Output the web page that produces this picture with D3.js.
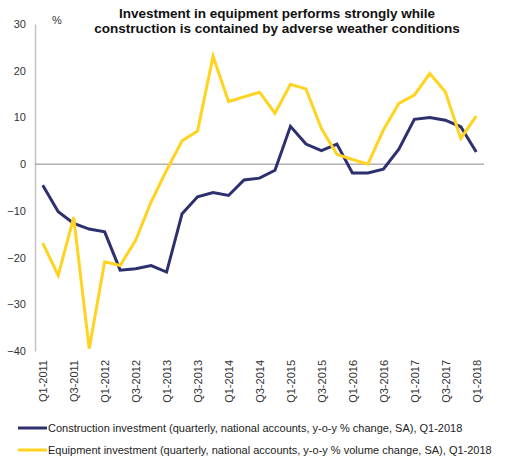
<!DOCTYPE html>
<html>
<head>
<meta charset="utf-8">
<script src="https://cdn.jsdelivr.net/npm/d3@7"></script>
<style>
  body { margin: 0; background: #fff; }
  text { font-family: "Liberation Sans", Arial, sans-serif; }
</style>
</head>
<body>
<div id="chart"></div>
<script>
const w = 507;
const h = 475;

const quarters = [];
for (let y = 2011; y <= 2018; y++) {
  for (let q = 1; q <= 4; q++) {
    if (y === 2018 && q > 1) break;
    quarters.push("Q" + q + "-" + y);
  }
}

const construction = [-4.5, -10.2, -12.7, -13.9, -14.5, -22.7, -22.4, -21.7, -23.1, -10.6,
  -7.0, -6.1, -6.7, -3.4, -3.0, -1.3, 8.1, 4.3, 2.9, 4.3,
  -1.9, -1.9, -1.1, 3.2, 9.6, 10.0, 9.4, 8.0, 2.6];

const equipment = [-16.9, -23.8, -11.4, -39.5, -20.9, -21.7, -16.3, -8.1, -1.3, 5.0,
  7.1, 23.1, 13.4, 14.4, 15.4, 10.9, 17.1, 16.1, 7.6, 2.1,
  1.0, 0.0, 7.3, 13.0, 14.8, 19.4, 15.5, 5.5, 10.3];

const yTicks = [30, 20, 10, 0, -10, -20, -30, -40];

const seriesNames = [
  "Construction investment (quarterly, national accounts, y-o-y % change, SA), Q1-2018",
  "Equipment investment (quarterly, national accounts, y-o-y % volume change, SA), Q1-2018"
];
const colors = ["#2d2f6e", "#ffd31f"];

const svg = d3.select("#chart").append("svg")
  .attr("width", w)
  .attr("height", h);

const x = d3.scalePoint()
  .domain(quarters)
  .range([35, 484])
  .padding(0.5);

const y = d3.scaleLinear()
  .domain([-40, 30])
  .range([351, 24]);

// title
svg.append("text")
  .attr("x", 277)
  .attr("y", 18)
  .attr("text-anchor", "middle")
  .attr("font-size", 13.5)
  .attr("font-weight", "bold")
  .attr("fill", "#111")
  .text("Investment in equipment performs strongly while");
svg.append("text")
  .attr("x", 277)
  .attr("y", 33)
  .attr("text-anchor", "middle")
  .attr("font-size", 13.5)
  .attr("font-weight", "bold")
  .attr("fill", "#111")
  .text("construction is contained by adverse weather conditions");

svg.append("text")
  .attr("x", 52)
  .attr("y", 24)
  .attr("font-size", 11)
  .attr("fill", "#333")
  .text("%");

// y axis
const yAxis = svg.append("g")
  .attr("transform", "translate(35,0)")
  .call(d3.axisLeft(y).tickValues(yTicks).tickSize(0).tickPadding(9));
yAxis.select(".domain").attr("stroke", "#c4c4c4").attr("stroke-width", 1.5);
yAxis.selectAll("text")
  .attr("font-size", 11)
  .attr("fill", "#333")
  .style("font-family", "Liberation Sans, Arial, sans-serif");

// zero line
svg.append("line")
  .attr("x1", 35)
  .attr("x2", 484)
  .attr("y1", y(0))
  .attr("y2", y(0))
  .attr("stroke", "#8a8a8a")
  .attr("stroke-width", 1);

// x axis labels
const xAxis = svg.append("g")
  .attr("transform", "translate(0,356)")
  .call(d3.axisBottom(x)
    .tickValues(quarters.filter((d, i) => i % 2 === 0))
    .tickSize(0));
xAxis.select(".domain").remove();
xAxis.selectAll("text")
  .attr("font-size", 11)
  .attr("fill", "#333")
  .style("font-family", "Liberation Sans, Arial, sans-serif")
  .attr("text-anchor", "end")
  .attr("transform", "rotate(-90)")
  .attr("x", -4)
  .attr("y", 0)
  .attr("dy", "0.35em");

// lines
const line = d3.line()
  .x((d, i) => x(quarters[i]))
  .y(d => y(d));

[construction, equipment].forEach((s, i) => {
  svg.append("path")
    .datum(s)
    .attr("fill", "none")
    .attr("stroke", colors[i])
    .attr("stroke-width", 3)
    .attr("stroke-linejoin", "miter")
    .attr("d", line);
});

// legend
seriesNames.forEach((name, i) => {
  const ly = 428 + i * 22;
  svg.append("line")
    .attr("x1", 18)
    .attr("x2", 47)
    .attr("y1", ly)
    .attr("y2", ly)
    .attr("stroke", colors[i])
    .attr("stroke-width", 3);
  svg.append("text")
    .attr("x", 48)
    .attr("y", ly + 4)
    .attr("font-size", 11)
    .attr("fill", "#222")
    .text(name);
});
</script>
</body>
</html>
